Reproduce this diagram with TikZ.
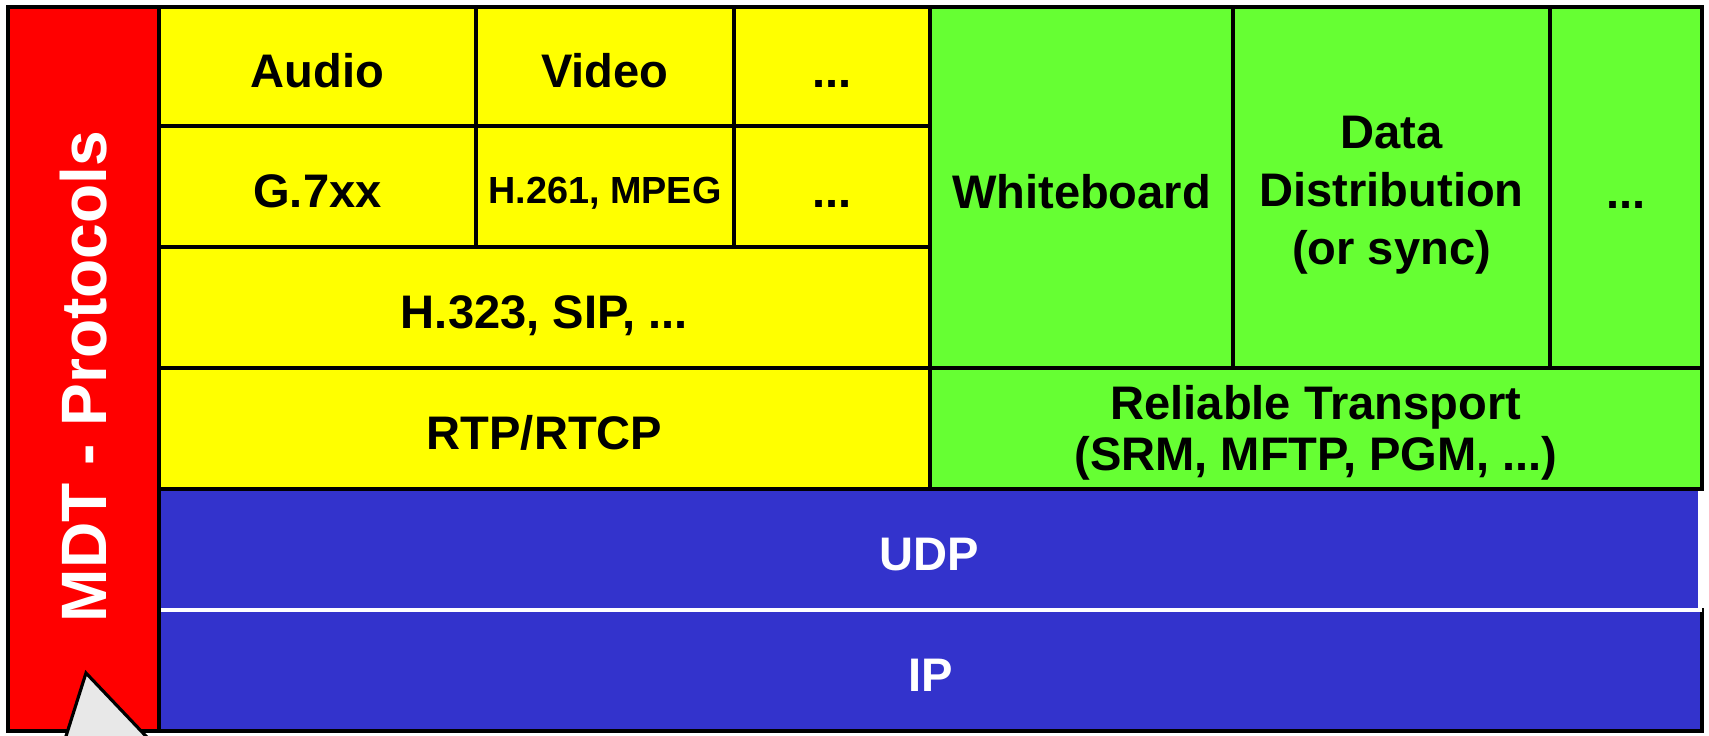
\documentclass[tikz,border=0pt]{standalone}
\usepackage{fontspec}
\setmainfont{Liberation Sans}
\usetikzlibrary{positioning}

\definecolor{mdtred}{HTML}{FF0000}
\definecolor{avyellow}{HTML}{FFFF00}
\definecolor{datagreen}{HTML}{66FF33}
\definecolor{netblue}{HTML}{3333CC}
\definecolor{pointergray}{HTML}{E8E8E8}

% several centred lines inside one cell, lowered a little
\newcommand{\celllines}[2]{\raisebox{#1}[\height][\depth]{\begin{tabular}{@{}c@{}}#2\end{tabular}}}

\begin{document}
\begin{tikzpicture}[y=-1cm,
  every node/.style={font=\bfseries\fontsize{13.4}{16}\selectfont, align=center},
  cell/.style={draw, line width=0.9pt, inner sep=0pt, text height=12.7pt, text depth=0.5pt},
  yellowcell/.style={cell, fill=avyellow},
  greencell/.style={cell, fill=datagreen},
  bluecell/.style={cell, fill=netblue, text=white}]

  \useasboundingbox (0,0) rectangle (17.09,7.35);
  \clip (0,0) rectangle (17.09,7.35);

  % Network layers (UDP sits on IP)
  \node[bluecell, minimum width=15.43cm, minimum height=1.21cm] (ip) at (9.305,6.705) {IP};
  \node[bluecell, draw=white, minimum width=15.41cm, minimum height=1.21cm] (udp) at (9.295,5.495) {UDP};

  % Audio / video side
  \node[yellowcell, minimum width=3.17cm, minimum height=1.19cm] (audio) at (3.175,0.665) {Audio};
  \node[yellowcell, minimum width=2.58cm, minimum height=1.19cm] (video) at (6.05,0.665) {Video};
  \node[yellowcell, minimum width=1.96cm, minimum height=1.19cm] (avmore) at (8.32,0.665) {...};
  \node[yellowcell, minimum width=3.17cm, minimum height=1.21cm] (g7xx) at (3.175,1.865) {G.7xx};
  \node[yellowcell, minimum width=2.58cm, minimum height=1.21cm, text height=9.9pt,
        font=\bfseries\fontsize{10.75}{12}\selectfont] (h261) at (6.05,1.865) {H.261, MPEG};
  \node[yellowcell, minimum width=1.96cm, minimum height=1.21cm] (codecmore) at (8.32,1.865) {...};
  \node[yellowcell, minimum width=7.71cm, minimum height=1.21cm] (h323) at (5.445,3.075) {H.323, SIP, ...};
  \node[yellowcell, minimum width=7.71cm, minimum height=1.21cm] (rtp) at (5.445,4.285) {RTP/RTCP};

  % Data side
  \node[greencell, minimum width=3.03cm, minimum height=3.61cm] (wboard) at (10.815,1.875) {Whiteboard};
  \node[greencell, minimum width=3.17cm, minimum height=3.61cm, text height=, text depth=,
        font=\bfseries\fontsize{13.4}{16.5}\selectfont]
    (datadist) at (13.915,1.875) {\celllines{-2.2pt}{Data\\Distribution\\(or sync)}};
  \node[greencell, minimum width=1.52cm, minimum height=3.61cm] (datamore) at (16.26,1.875) {...};
  \node[greencell, minimum width=7.72cm, minimum height=1.21cm, text height=, text depth=,
        font=\bfseries\fontsize{13.4}{14.5}\selectfont]
    (reliable) at (13.16,4.285) {\celllines{-1.7pt}{Reliable Transport\\(SRM, MFTP, PGM, ...)}};

  % MDT bar on the left
  \node[cell, fill=mdtred, text=white, rotate=90, minimum width=7.24cm, minimum height=1.51cm,
        text height=, text depth=, font=\bfseries\fontsize{18.25}{20}\selectfont]
    (mdt) at (0.835,3.69) {MDT - Protocols\hspace{0.15cm}};
  \draw[line width=0.9pt, fill=pointergray] (0.632,7.45) -- (0.86,6.73) -- (1.544,7.45) -- cycle;

\end{tikzpicture}
\end{document}
